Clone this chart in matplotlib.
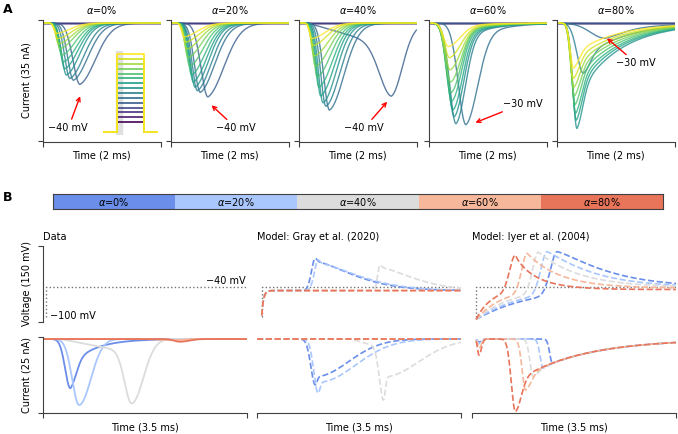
import numpy as np
import matplotlib
matplotlib.use('Agg')
import matplotlib.pyplot as plt

plt.rcParams['font.family'] = ['DejaVu Sans']
plt.rcParams['font.size'] = 7

# ---------------- panel A : current families (nA, ms) ----------------
STEP_MV = [-80, -70, -60, -50, -40, -30, -20, -10, 0, 10, 20, 30, 40, 50, 60]
ALPHA_TXT = ['$\\alpha$=0%', '$\\alpha$=20%', '$\\alpha$=40%', '$\\alpha$=60%', '$\\alpha$=80%']

# peak time of each trace (0 = no current at that step)
A_PEAK_T = [
    [0, 0, 0, 0, 0.63, 0.52, 0.46, 0.40, 0.37, 0.35, 0.32, 0.29, 0.27, 0.25, 0.23],
    [0, 0, 0, 0, 0.63, 0.50, 0.45, 0.41, 0.38, 0.35, 0.32, 0.29, 0.27, 0.25, 0.22],
    [0, 0, 0, 0, 1.57, 0.52, 0.46, 0.41, 0.37, 0.34, 0.31, 0.28, 0.26, 0.24, 0.22],
    [0, 0, 0, 0, 0, 0.63, 0.46, 0.43, 0.41, 0.39, 0.38, 0.37, 0.36, 0.35, 0.33],
    [0, 0, 0, 0, 0, 0.82, 0.45, 0.34, 0.33, 0.32, 0.31, 0.30, 0.29, 0.28, 0.28],
]
# peak inward current
A_PEAK_I = [
    [0, 0, 0, 0, 17.7, 16.5, 16.0, 15.0, 13.2, 11.2, 9.3, 7.4, 6.0, 4.5, 3.0],
    [0, 0, 0, 0, 21.3, 20.0, 19.5, 18.5, 17.0, 15.0, 12.5, 10.0, 7.5, 5.5, 4.0],
    [0, 0, 0, 0, 21.1, 25.1, 24.0, 23.0, 21.0, 18.5, 15.5, 12.5, 9.5, 6.5, 4.5],
    [0, 0, 0, 0, 0, 29.3, 29.0, 27.0, 25.0, 22.5, 20.0, 17.0, 13.5, 10.0, 6.8],
    [0, 0, 0, 0, 0, 4.4, 14.5, 30.4, 28.0, 26.0, 23.5, 21.0, 18.5, 16.0, 13.0],
]
A_RISE = [
    [0, 0, 0, 0, 0.12, 0.10, 0.09, 0.08, 0.07, 0.065, 0.06, 0.055, 0.05, 0.045, 0.04],
    [0, 0, 0, 0, 0.12, 0.10, 0.09, 0.08, 0.07, 0.065, 0.06, 0.055, 0.05, 0.045, 0.04],
    [0, 0, 0, 0, 0.20, 0.10, 0.09, 0.08, 0.07, 0.065, 0.06, 0.055, 0.05, 0.045, 0.04],
    [0, 0, 0, 0, 0, 0.13, 0.11, 0.10, 0.10, 0.095, 0.09, 0.09, 0.085, 0.085, 0.08],
    [0, 0, 0, 0, 0, 0.25, 0.11, 0.07, 0.07, 0.065, 0.065, 0.06, 0.06, 0.055, 0.055],
]
A_DECAY = [
    [0, 0, 0, 0, 0.27, 0.25, 0.24, 0.23, 0.23, 0.23, 0.23, 0.23, 0.23, 0.23, 0.23],
    [0, 0, 0, 0, 0.28, 0.25, 0.24, 0.23, 0.23, 0.23, 0.23, 0.23, 0.23, 0.23, 0.23],
    [0, 0, 0, 0, 0.19, 0.25, 0.24, 0.23, 0.23, 0.23, 0.23, 0.23, 0.23, 0.23, 0.23],
    [0, 0, 0, 0, 0, 0.20, 0.16, 0.16, 0.16, 0.16, 0.16, 0.17, 0.18, 0.19, 0.20],
    [0, 0, 0, 0, 0, 0.30, 0.12, 0.10, 0.10, 0.10, 0.10, 0.10, 0.10, 0.10, 0.10],
]
A_RAMP = [[0] * 15, [0] * 15, [0, 0, 0, 0, 7.0] + [0] * 10, [0] * 15, [0] * 15]
A_TAIL_FRAC = [0.15, 0.15, 0.12, 0.2, 0.7]
A_TAIL_TAU = [0.3, 0.3, 0.3, 0.45, 0.7]
A_NOTE = ['\u221240 mV', '\u221240 mV', '\u221240 mV', '\u221230 mV', '\u221230 mV']
A_NOTE_HEAD = [(0.632, -21.1), (0.689, -23.7), (1.50, -22.7), (0.79, -28.7), (0.85, -4.4)]
A_NOTE_TEXT = [(0.43, -30.3), (1.11, -30.3), (1.11, -30.3), (1.60, -23.2), (1.35, -11.6)]
HOLD_MV = -100

# ---------------- panel B ----------------
B_ALPHA = ['$\\alpha$=0%', '$\\alpha$=20%', '$\\alpha$=40%', '$\\alpha$=60%', '$\\alpha$=80%']
B_COLORS = ['#6a8ee9', '#aac7fd', '#dcdcdc', '#f6b79b', '#e8745a']
COL_TITLES = ['Data', 'Model: Gray et al. (2020)', 'Model: Iyer et al. (2004)']
STEP_T = [0.05, 0.08, 0.07]

# recorded current
DATA_TP = [0.47, 0.62, 1.52, 2.20, 2.35]
DATA_I = [16.2, 21.7, 21.2, 0.4, 0.9]
DATA_RISE = [0.09, 0.12, 0.12, 0.2, 0.1]
DATA_DECAY = [0.10, 0.20, 0.20, 0.2, 0.15]
DATA_FRAC = [0.55, 0, 0, 0, 0]
DATA_RAMP = [0, 0, 4.5, 0, 0]
DATA_RAMP_ON = [0, 0, 0.3, 0, 0]

# Gray et al. model
GRAY_PLAT = -48
GRAY_TC = 0.03
GRAY_V_TP = [1.00, 1.05, 2.11, 0, 0]
GRAY_V_PEAK = [15.7, 12.4, 2.5, 0, 0]
GRAY_V_RISE = [0.065, 0.065, 0.04, 0, 0]
GRAY_V_TAU = [0.9, 0.95, 0.8, 0, 0]
GRAY_I_TP = [1.00, 1.05, 2.17, 0, 0]
GRAY_I = [15.1, 17.8, 20.1, 0, 0]
GRAY_I_RISE = [0.075, 0.075, 0.07, 0, 0]
GRAY_I_FRAC = [0.82, 0.8, 0.62, 0, 0]
GRAY_I_TAU = [0.8, 0.9, 0.85, 0, 0]
GRAY_I_RAMP = [0, 0, 3.0, 0, 0]
GRAY_I_RAMP_ON = [0, 0, 1.6, 0, 0]

# Iyer et al. model
IYER_HOLD = -105
IYER_PLAT = [-40, -41, -42, -43, -46]
IYER_TC = [0.97, 0.8, 0.62, 0.45, 0.25]
IYER_V_TP = [1.46, 1.29, 1.14, 0.947, 0.745]
IYER_V_PEAK = [28.8, 28.8, 28.0, 25.6, 22.2]
IYER_V_RISE = [0.115, 0.11, 0.10, 0.095, 0.10]
IYER_V_TAU = [1.0, 0.85, 0.7, 0.55, 0.35]
IYER_V_TQ = [1.2, 1.1, 1.0, 1.0, 0.9]
IYER_I0 = [1.0, 1.5, 2.0, 3.0, 5.3]
IYER_I_TP = [1.38, 1.22, 1.05, 0.92, 0.745]
IYER_I = [8.0, 9.6, 12.4, 16.8, 23.9]
IYER_I_RISE = [0.045, 0.05, 0.055, 0.06, 0.07]
IYER_I_FRAC = [1.0, 0.95, 0.86, 0.72, 0.59]
IYER_I_TAU = 1.1


def pulse(t, tp, amp, rise, decay, frac=0.0, tau=1.0, tq=1.0, ramp=0.0, t_on=0.0):
    if amp == 0:
        return np.zeros_like(t)
    dt = t - tp
    up = (amp - ramp) * np.exp(-0.5 * (dt / rise) ** 2)
    if ramp:
        up = up + ramp * np.clip((t - t_on) / (tp - t_on), 0, 1)
    d = np.clip(dt, 0, None)
    down = amp * ((1 - frac) * np.exp(-0.5 * (d / decay) ** 2) + frac * np.exp(-(d / tau) ** tq))
    return np.where(dt < 0, up, down)


def charge(t, ts, hold, plat, tc):
    return plat + (hold - plat) * np.exp(-np.clip(t - ts, 0, None) / tc)


W, H = 678, 434
fig = plt.figure(figsize=(W / 100, H / 100), dpi=100)


def px_axes(x0, y0, x1, y1):
    return fig.add_axes([x0 / W, 1 - y1 / H, (x1 - x0) / W, (y1 - y0) / H])


def ftext(x, y, s, **kw):
    fig.text(x / W, 1 - y / H, s, **kw)


def style(ax, xlim, ylim, left=True, bottom=True):
    ax.set_xlim(*xlim)
    ax.set_ylim(*ylim)
    ax.patch.set_alpha(0)
    for s in ['top', 'right']:
        ax.spines[s].set_visible(False)
    ax.spines['left'].set_visible(left)
    ax.spines['bottom'].set_visible(bottom)
    for s in ['left', 'bottom']:
        ax.spines[s].set_color('0.25')
        ax.spines[s].set_linewidth(0.8)
    ax.set_xticks(list(xlim) if bottom else [])
    ax.set_yticks(list(ylim) if left else [])
    ax.set_xticklabels([])
    ax.set_yticklabels([])
    ax.tick_params(length=3.5, width=0.8, color='0.25')


# ---------------- draw panel A ----------------
ta = np.linspace(0, 2, 700)
vir = plt.cm.viridis(np.linspace(0, 1, len(STEP_MV)))
A_X0 = [43, 171, 299, 429, 557]
for k in range(5):
    ax = px_axes(A_X0[k], 20, A_X0[k] + 117.5, 141.5)
    style(ax, (0, 2), (-34.14, 0.86))
    for j in range(len(STEP_MV)):
        cur = -pulse(ta, A_PEAK_T[k][j], A_PEAK_I[k][j], A_RISE[k][j], A_DECAY[k][j],
                     A_TAIL_FRAC[k], A_TAIL_TAU[k], 1.0, A_RAMP[k][j], 0.15)
        ax.plot(ta, cur, color=vir[j], lw=1.0, alpha=0.8)
    ax.annotate(A_NOTE[k], xy=A_NOTE_HEAD[k], xytext=A_NOTE_TEXT[k], ha='center', va='center',
                arrowprops=dict(arrowstyle='->', color='red', lw=1, shrinkA=1, shrinkB=0))
    ftext(A_X0[k] + 58.75, 10, ALPHA_TXT[k], ha='center', va='center')
    ftext(A_X0[k] + 58.75, 156, 'Time (2 ms)', ha='center', va='center')
ftext(27, 80.5, 'Current (35 nA)', rotation=90, ha='center', va='center')

# step protocol inset
ins = px_axes(103, 51.4, 158, 134.6)
ins.set_xlim(0, 4)
ins.set_ylim(-106, 66)
ins.axis('off')
ins.axvspan(0.98, 1.35, color='0.88', zorder=0)
for j, v in enumerate(STEP_MV):
    ins.plot([0, 1, 1, 3, 3, 4], [HOLD_MV, HOLD_MV, v, v, HOLD_MV, HOLD_MV], color=vir[j], lw=1.2)

# ---------------- draw panel B ----------------
cw = B_COLORS
cax = px_axes(53, 194, 663, 209)
for i in range(5):
    cax.barh(0, 1, left=i, height=1, color=cw[i])
    cax.text(i + 0.5, 0, B_ALPHA[i], ha='center', va='center')
cax.set_xlim(0, 5)
cax.set_ylim(-0.5, 0.5)
cax.set_xticks([])
cax.set_yticks([])
for s in cax.spines.values():
    s.set_linewidth(0.8)
    s.set_color('0.25')

tb = np.linspace(0, 3.5, 900)
B_X0 = [43, 257, 472]
VLIM = (-110, 40)
ILIM = (-24.34, 0.66)
axv, axi = [], []
for c in range(3):
    v = px_axes(B_X0[c], 246, B_X0[c] + 204, 322)
    style(v, (0, 3.5), VLIM, left=(c == 0), bottom=False)
    i_ = px_axes(B_X0[c], 337, B_X0[c] + 204, 413)
    style(i_, (0, 3.5), ILIM, left=(c == 0), bottom=True)
    v.plot([STEP_T[c], STEP_T[c], 3.5], [HOLD_MV, -40, -40], ls=':', color='0.45', lw=1)
    axv.append(v)
    axi.append(i_)
    ftext(B_X0[c], 236.5, COL_TITLES[c], ha='left', va='center')
    ftext(B_X0[c] + 102, 427, 'Time (3.5 ms)', ha='center', va='center')
ftext(27, 284, 'Voltage (150 mV)', rotation=90, ha='center', va='center')
ftext(27, 375, 'Current (25 nA)', rotation=90, ha='center', va='center')
ftext(246, 280.5, '\u221240 mV', ha='right', va='center')
ftext(50, 316, '\u2212100 mV', ha='left', va='center')

for a in range(5):
    # data
    cur = -pulse(tb, DATA_TP[a], DATA_I[a], DATA_RISE[a], DATA_DECAY[a], DATA_FRAC[a], 0.4, 1.0,
                 DATA_RAMP[a], DATA_RAMP_ON[a])
    axi[0].plot(tb, cur, color=cw[a], lw=1.3)

    # Gray model
    tg = tb[tb >= STEP_T[1]]
    vg = charge(tg, STEP_T[1], HOLD_MV, GRAY_PLAT, GRAY_TC)
    vg = vg + pulse(tg, GRAY_V_TP[a], GRAY_V_PEAK[a] - GRAY_PLAT if GRAY_V_TP[a] else 0,
                    GRAY_V_RISE[a], 0.03, 0.9, GRAY_V_TAU[a], 1.5)
    axv[1].plot(tg, vg, color=cw[a], lw=1.2, ls='--')
    ig = -pulse(tb, GRAY_I_TP[a], GRAY_I[a], GRAY_I_RISE[a], 0.03, GRAY_I_FRAC[a], GRAY_I_TAU[a], 2.0,
                GRAY_I_RAMP[a], GRAY_I_RAMP_ON[a])
    axi[1].plot(tb, ig, color=cw[a], lw=1.2, ls='--')

    # Iyer model
    ti = tb[tb >= STEP_T[2]]
    base = charge(ti, STEP_T[2], IYER_HOLD, IYER_PLAT[a], IYER_TC[a])
    base_pk = charge(np.array([IYER_V_TP[a]]), STEP_T[2], IYER_HOLD, IYER_PLAT[a], IYER_TC[a])[0]
    vi = base + pulse(ti, IYER_V_TP[a], IYER_V_PEAK[a] - base_pk, IYER_V_RISE[a], 0.05, 1.0,
                      IYER_V_TAU[a], IYER_V_TQ[a])
    axv[2].plot(ti, vi, color=cw[a], lw=1.2, ls='--')
    ii = -(pulse(ti, 0.12, IYER_I0[a], 0.025, 0.04)
           + pulse(ti, IYER_I_TP[a], IYER_I[a], IYER_I_RISE[a], 0.1, IYER_I_FRAC[a], IYER_I_TAU, 1.0))
    axi[2].plot(ti, ii, color=cw[a], lw=1.2, ls='--')

ftext(3, 3, 'A', ha='left', va='top', fontsize=9, fontweight='bold')
ftext(3, 191, 'B', ha='left', va='top', fontsize=9, fontweight='bold')

fig.savefig('out.png', dpi=100)
